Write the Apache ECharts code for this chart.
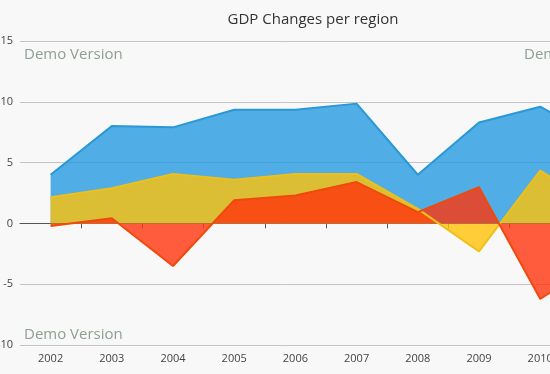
<!DOCTYPE html>
<html>
<head>
<meta charset="utf-8">
<script src="https://cdn.jsdelivr.net/npm/echarts@6/dist/echarts.min.js"></script>
<style>html,body{margin:0;padding:0;background:#f8f8f8;}#c{width:550px;height:374px;}</style>
</head>
<body>
<div id="c"></div>
<script>
const years = ['2002','2003','2004','2005','2006','2007','2008','2009','2010','2011'];
const regionBlue   = [4.0, 8.0, 7.9, 9.35, 9.35, 9.85, 4.0, 8.3, 9.6, 6.8];
const regionYellow = [2.15, 2.9, 4.07, 3.6, 4.07, 4.07, 1.2, -2.3, 4.35, 1.2];
const regionRed    = [-0.22, 0.43, -3.5, 1.9, 2.3, 3.4, 0.93, 2.98, -6.2, -3.0];
const yTicks = {min: -10, max: 15, interval: 5};

const chart = echarts.init(document.getElementById('c'), null, {renderer: 'canvas'});
const font = '"Open Sans", "Noto Sans", sans-serif';
function area(name, data, fill, stroke) {
  return {
    name, type: 'line', data, symbol: 'none', smooth: false,
    lineStyle: {color: stroke, width: 2},
    itemStyle: {color: stroke},
    areaStyle: {color: fill, opacity: 0.8, origin: 0},
    z: 2
  };
}
chart.setOption({
  backgroundColor: '#f8f8f8',
  animation: false,
  title: {
    text: 'GDP Changes per region', left: 308, top: 7, textAlign: 'center',
    textStyle: {fontFamily: font, fontSize: 15, fontWeight: 'normal', color: '#333'}
  },
  grid: {left: 20, width: 612, top: 41, bottom: 29, containLabel: false, outerBoundsMode: 'none'},
  xAxis: {
    type: 'category', data: years, boundaryGap: true,
    axisLine: {lineStyle: {color: '#555', width: 1}},
    axisTick: {show: true, length: 5, lineStyle: {color: '#555'}, interval: function (i) { return i > 0; }},
    axisLabel: {fontFamily: font, fontSize: 11, color: '#444', margin: 8, interval: 0},
    splitLine: {show: false}
  },
  yAxis: {
    type: 'value', min: yTicks.min, max: yTicks.max, interval: yTicks.interval,
    axisLine: {show: false}, axisTick: {show: false},
    axisLabel: {fontFamily: font, fontSize: 11, color: '#444', margin: 7},
    splitLine: {lineStyle: {color: '#c4c4c4', width: 1}}
  },
  graphic: [
    {type: 'text', left: 24, top: 47, style: {text: 'Demo Version', fontFamily: font, fontSize: 15, fill: '#8f9f91'}, z: 10},
    {type: 'text', left: 524, top: 47, style: {text: 'Demo Version', fontFamily: font, fontSize: 15, fill: '#8f9f91'}, z: 10},
    {type: 'text', left: 24, top: 327, style: {text: 'Demo Version', fontFamily: font, fontSize: 15, fill: '#8f9f91'}, z: 10}
  ],
  series: [
    area('Region 1', regionBlue, '#259ae0', '#2a98d4'),
    area('Region 2', regionYellow, '#ffc207', '#efc019'),
    area('Region 3', regionRed, '#ff340c', '#ef4a0c')
  ]
});
</script>
</body>
</html>
